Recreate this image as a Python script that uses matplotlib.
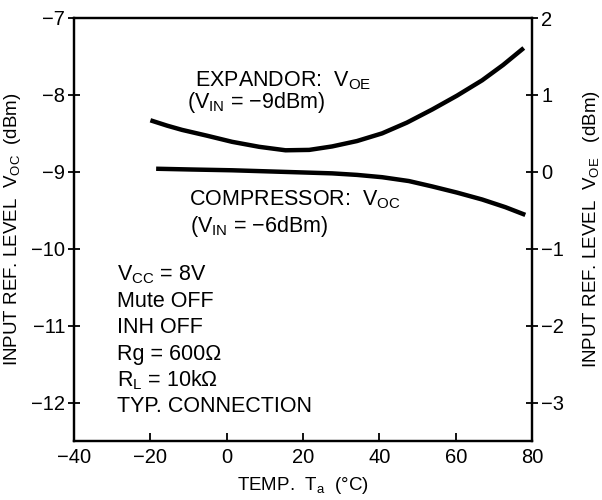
import matplotlib
matplotlib.use('Agg')
import matplotlib.pyplot as plt

plt.rcParams['font.family'] = ['Liberation Sans', 'DejaVu Sans']
plt.rcParams['mathtext.default'] = 'regular'

# Expandor output (right axis, V_OE dBm)
exp_temp = [-20.0, -15.6, -11.7, -5.2, 1.4, 8.5, 15.4, 21.6, 27.6, 34.1,
            40.7, 47.2, 53.8, 60.3, 66.9, 72.4, 77.8]
exp_voe = [0.67, 0.60, 0.545, 0.47, 0.39, 0.325, 0.28, 0.285, 0.33, 0.40,
           0.50, 0.64, 0.81, 0.99, 1.19, 1.39, 1.61]

# Compressor output (left axis, V_OC dBm)
cmp_temp = [-18.5, -9.1, 1.4, 14.5, 27.6, 34.1, 40.7, 47.7, 53.8, 60.3, 66.9, 73.0, 78.2]
cmp_voc = [-8.96, -8.97, -8.98, -9.0, -9.02, -9.04, -9.07, -9.12, -9.19, -9.27,
           -9.36, -9.46, -9.56]

x_ticks = [-40, -20, 0, 20, 40, 60, 80]
left_ticks = [-12, -11, -10, -9, -8, -7]
right_ticks = [-3, -2, -1, 0, 1, 2]

conditions = ['$V_{CC}$ = 8V', 'Mute OFF', 'INH OFF', 'Rg = 600Ω',
              '$R_L$ = 10kΩ', 'TYP. CONNECTION']

fig = plt.figure(figsize=(6.02, 5.0), dpi=100)
ax = fig.add_axes([0.123, 0.118, 0.761, 0.846])
ax2 = ax.twinx()

ax.plot(cmp_temp, cmp_voc, color='black', lw=3.2, solid_capstyle='butt')
ax2.plot(exp_temp, exp_voe, color='black', lw=3.2, solid_capstyle='butt')

ax.set_xlim(-40, 80)
ax.set_ylim(-12.5, -7)
ax2.set_ylim(-3.5, 2)
ax.set_xticks(x_ticks)
ax.set_yticks(left_ticks)
ax2.set_yticks(right_ticks)

for a in (ax, ax2):
    for s in a.spines.values():
        s.set_linewidth(1.6)
ax.tick_params(axis='x', direction='in', length=6, width=1.3, labelsize=14.5, pad=5)
ax.tick_params(axis='y', direction='inout', length=9, width=1.3, labelsize=14.5, pad=2)
ax2.tick_params(axis='y', direction='inout', length=9, width=1.3, labelsize=14.5, pad=2)

ax.set_xlabel('TEMP.  $T_a$  (°C)', fontsize=13.5, labelpad=6)
ax.set_ylabel('INPUT REF. LEVEL  $V_{OC}$  (dBm)', fontsize=13.5, labelpad=6)
ax2.set_ylabel('INPUT REF. LEVEL  $V_{OE}$   (dBm)', fontsize=13.5, labelpad=12)

fs = 15.5
ax.text(-8.3, -7.81, 'EXPANDOR:  $V_{OE}$', fontsize=fs, va='center')
ax.text(-10.4, -8.10, '($V_{IN}$ = −9dBm)', fontsize=fs, va='center')
ax.text(-9.9, -9.36, 'COMPRESSOR:  $V_{OC}$', fontsize=fs, va='center')
ax.text(-9.6, -9.71, '($V_{IN}$ = −6dBm)', fontsize=fs, va='center')

for i, line in enumerate(conditions):
    ax.text(-28.7, -10.34 - i * 0.343, line, fontsize=15.5, va='center')

fig.savefig('out.png', dpi=100)
